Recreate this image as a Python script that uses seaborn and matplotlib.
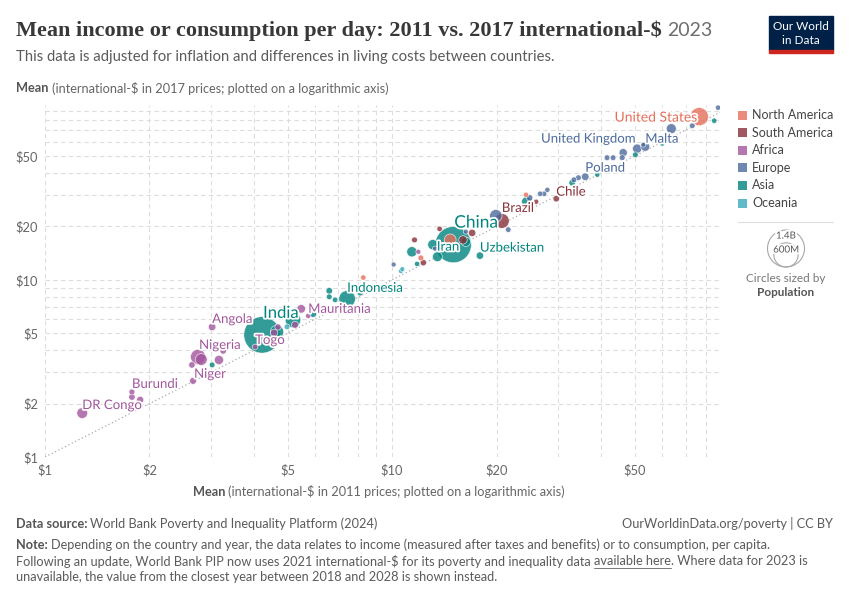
import pandas as pd
import seaborn as sns
import matplotlib.pyplot as plt
import matplotlib.ticker as mticker
import matplotlib.patheffects as pe
from matplotlib.patches import Rectangle, Ellipse
from matplotlib.lines import Line2D

# 1. Datos (dolares por dia)
countries = [
    "United States", "Mexico", "Dominican Republic", "Costa Rica", "El Salvador",
    "Brazil", "Colombia", "Chile", "Uruguay", "Paraguay", "Peru", "Bolivia", "Ecuador",
    "Nigeria", "Ethiopia", "DR Congo", "Tanzania", "Kenya", "Uganda", "Angola", "Niger",
    "Madagascar", "Malawi", "Burundi", "Zambia", "Togo", "Ghana", "Senegal", "Cameroon",
    "Mauritania", "Gabon",
    "Russia", "Germany", "United Kingdom", "France", "Italy", "Poland", "Norway",
    "Switzerland", "Malta", "Belgium", "Portugal", "Greece", "Hungary", "Czechia",
    "Bulgaria", "Serbia", "Croatia", "Belarus", "Moldova", "Albania", "Kosovo", "Romania",
    "China", "India", "Indonesia", "Pakistan", "Bangladesh", "Philippines", "Vietnam",
    "Iran", "Turkey", "Thailand", "Sri Lanka", "Nepal", "Uzbekistan", "Kazakhstan",
    "Iraq", "Laos", "Cambodia", "Tajikistan", "Israel", "Cyprus", "Singapore",
    "Armenia", "Kyrgyzstan",
    "Papua New Guinea", "Fiji", "Samoa",
]
mean_2011 = [
    76.7, 14.7, 12.1, 24.3, 8.26,
    20.7, 16.0, 29.7, 26.0, 13.7, 17.0, 11.6, 12.3,
    2.76, 2.82, 1.28, 3.17, 5.47, 2.65, 3.03, 2.67,
    1.88, 1.78, 1.78, 3.26, 4.03, 4.57, 4.69, 5.25,
    5.73, 11.9,
    19.9, 63.7, 50.8, 53.6, 46.3, 36.0, 86.9,
    73.2, 52.9, 46.0, 41.6, 43.3, 34.4, 33.4,
    26.7, 27.4, 28.0, 21.6, 16.3, 13.3, 10.1, 24.9,
    15.0, 4.22, 7.42, 5.18, 4.66, 11.4, 13.5,
    13.1, 24.4, 16.3, 6.59, 5.92, 17.9, 33.0,
    11.8, 6.85, 8.09, 3.03, 50.2, 60.0, 84.7,
    39.0, 6.59,
    4.98, 10.6, 10.7,
]
mean_2017 = [
    83.4, 16.8, 13.3, 30.2, 10.3,
    21.5, 16.8, 28.7, 27.6, 19.4, 18.4, 16.8, 12.5,
    3.67, 3.55, 1.77, 3.53, 6.86, 3.31, 5.42, 2.69,
    2.10, 2.18, 2.33, 3.97, 4.18, 5.02, 5.42, 5.57,
    6.26, 14.4,
    23.0, 71.3, 55.0, 56.4, 52.2, 38.2, 93.7,
    74.1, 57.9, 48.9, 48.9, 48.9, 37.7, 36.7,
    30.6, 30.6, 32.2, 19.2, 18.7, 15.0, 12.2, 29.0,
    15.8, 4.89, 7.81, 5.94, 5.08, 14.4, 13.5,
    15.8, 27.6, 16.4, 8.67, 6.43, 13.7, 35.3,
    12.3, 7.71, 8.45, 3.31, 50.8, 58.7, 79.1,
    39.2, 8.02,
    5.43, 11.2, 11.5,
]
regions = (
    ["North America"] * 5
    + ["South America"] * 8
    + ["Africa"] * 18
    + ["Europe"] * 22
    + ["Asia"] * 23
    + ["Oceania"] * 3
)
population = [  # millones
    335, 128, 11, 5, 6,
    216, 52, 20, 3.4, 7, 34, 12, 18,
    224, 127, 102, 67, 55, 20, 36, 27,
    30, 20, 13, 20, 9, 34, 18, 28,
    5, 2.4,
    144, 84, 68, 64, 48, 37, 5.5,
    9, 0.5, 12, 10, 10, 10, 10,
    6.5, 6.7, 4, 9, 2.5, 2.8, 1.8, 19,
    1410, 1429, 277, 240, 171, 90, 80,
    89, 85, 72, 22, 30, 35, 20,
    5, 7.6, 17, 10, 9.7, 1.2, 5.9,
    3, 10,
    10, 0.9, 0.2,
]

region_order = ["North America", "South America", "Africa", "Europe", "Asia", "Oceania"]
region_colors = ["#E56E5A", "#883039", "#A2559C", "#4C6A9C", "#00847E", "#38AABA"]
palette = dict(zip(region_order, region_colors))

# etiquetas: (dx px, dy px hacia arriba, tamano, alineacion)
labels = {
    "United States": (-2, -1, 10, "right"),
    "United Kingdom": (-1, 10, 9.5, "right"),
    "Malta": (2, 6, 9.5, "left"),
    "Poland": (0, 9, 9.5, "left"),
    "Chile": (0, 7, 9.5, "left"),
    "Brazil": (0, 13, 9.5, "left"),
    "China": (1, 22, 12.5, "left"),
    "Iran": (4, -2, 9.5, "left"),
    "Uzbekistan": (0, 8, 9.5, "left"),
    "Indonesia": (0, 11, 9.5, "left"),
    "Mauritania": (0, 7, 9.5, "left"),
    "India": (1, 22, 12, "left"),
    "Angola": (0, 8, 9.5, "left"),
    "Togo": (0, 7, 9.5, "left"),
    "Nigeria": (1, 12, 9.5, "left"),
    "Niger": (1, 7, 9.5, "left"),
    "Burundi": (0, 8, 9.5, "left"),
    "DR Congo": (0, 8, 9.5, "left"),
}

df = pd.DataFrame({
    "country": countries,
    "mean_2011": mean_2011,
    "mean_2017": mean_2017,
    "region": regions,
    "population": population,
}).sort_values("population", ascending=False)

# 2. Estilo
sns.set_theme(style="white")
plt.rcParams["font.family"] = ["Lato", "DejaVu Sans"]

W, H = 850, 600
fig = plt.figure(figsize=(8.5, 6), dpi=100)
ax = fig.add_axes([45 / W, 143 / H, 675 / W, 352 / H])

ax.plot([1, 88], [1, 88], color="#aaaaaa", lw=0.9, ls=(0, (1, 2)), zorder=2)
sns.scatterplot(data=df, x="mean_2011", y="mean_2017", hue="region", palette=palette,
                size="population", sizes=(12, 690), size_norm=(0, 1430),
                alpha=0.8, edgecolor="white", linewidth=0.5, legend=False,
                ax=ax, zorder=3)

ax.set_xscale("log")
ax.set_yscale("log")
ax.set_xlim(1, 88)
ax.set_ylim(1, 97)
major = [1, 2, 5, 10, 20, 50]
for axis in (ax.xaxis, ax.yaxis):
    axis.set_major_locator(mticker.FixedLocator(major))
    axis.set_major_formatter(mticker.FixedFormatter([f"${v}" for v in major]))
    axis.set_minor_locator(mticker.LogLocator(base=10, subs=range(2, 10)))
    axis.set_minor_formatter(mticker.NullFormatter())
ax.grid(True, which="both", color="#dddddd", lw=0.8, ls=(0, (4, 3)), zorder=0)
ax.tick_params(which="both", length=0, labelsize=9.3, labelcolor="#666666", pad=5)
ax.set_xlabel("")
ax.set_ylabel("")
for s in ax.spines.values():
    s.set_visible(False)

# etiquetas de paises
halo = [pe.withStroke(linewidth=2.5, foreground="white")]
for _, row in df.iterrows():
    if row["country"] not in labels:
        continue
    dx, dy, fs, ha = labels[row["country"]]
    ax.annotate(row["country"], (row["mean_2011"], row["mean_2017"]),
                xytext=(dx * 0.72, dy * 0.72), textcoords="offset points",
                ha=ha, va="center", fontsize=fs, color=palette[row["region"]],
                path_effects=halo, zorder=5)


# 3. Textos alrededor
renderer = fig.canvas.get_renderer()


def texto(x, y, partes, **kw):
    # x, y en pixeles desde arriba a la izquierda; cada parte: (texto, props, hueco previo)
    cajas = []
    for s, props, gap in partes:
        x += gap
        t = fig.text(x / W, 1 - y / H, s, va="center", ha="left", **props, **kw)
        bb = t.get_window_extent(renderer=renderer)
        cajas.append(bb)
        x = bb.x1
    return cajas


texto(16, 31, [
    ("Mean income or consumption per day: 2011 vs. 2017 international-$",
     dict(family="Liberation Serif", fontsize=16, fontweight="bold", color="#383838"), 0),
    ("2023", dict(fontsize=14, color="#6e6e6e"), 5),
])
fig.text(16 / W, 1 - 57 / H,
         "This data is adjusted for inflation and differences in living costs between countries.",
         va="center", fontsize=10.75, color="#5b5b5b")
etiq_b = dict(fontsize=9.2, fontweight="bold", color="#555555")
etiq = dict(fontsize=9.2, color="#666666")
texto(16, 88, [
    ("Mean", etiq_b, 0),
    ("(international-$ in 2017 prices; plotted on a logarithmic axis)", etiq, 3),
])
texto(193, 492, [
    ("Mean", etiq_b, 0),
    ("(international-$ in 2011 prices; plotted on a logarithmic axis)", etiq, 3),
])

# logo
fig.add_artist(Rectangle((769 / W, 1 - 50 / H), 64 / W, 34 / H,
                         transform=fig.transFigure, color="#002147"))
fig.add_artist(Rectangle((769 / W, 1 - 53 / H), 64 / W, 3 / H,
                         transform=fig.transFigure, color="#ce261e"))
fig.text(801 / W, 1 - 26 / H, "Our World", ha="center", va="center",
         fontsize=8.5, color="white")
fig.text(801 / W, 1 - 40 / H, "in Data", ha="center", va="center",
         fontsize=8.5, color="white")

# leyenda de regiones
for i, (reg, col) in enumerate(zip(region_order, region_colors)):
    yy = 115 + i * 17.6
    fig.add_artist(Rectangle((738 / W, 1 - (yy + 4.5) / H), 9 / W, 9 / H,
                             transform=fig.transFigure, color=col, alpha=0.8, lw=0))
    fig.text(752 / W, 1 - yy / H, reg, va="center", fontsize=9, color="#444444")
fig.add_artist(Line2D([738 / W, 833 / W], [1 - 222 / H, 1 - 222 / H],
                      transform=fig.transFigure, color="#dddddd", lw=0.8))

# leyenda de tamano
for r, lab, ly in [(18.5, "1.4B", 236), (12.1, "600M", 250)]:
    fig.add_artist(Ellipse((786 / W, 1 - (267 - r) / H), 2 * r / W, 2 * r / H,
                           transform=fig.transFigure, fill=False,
                           edgecolor="#a8a8a8", lw=0.8))
    fig.text(786 / W, 1 - ly / H, lab, ha="center", va="center", fontsize=7,
             color="#555555", path_effects=halo)
fig.text(786 / W, 1 - 278 / H, "Circles sized by", ha="center", va="center",
         fontsize=8.5, color="#777777")
fig.text(786 / W, 1 - 292 / H, "Population", ha="center", va="center",
         fontsize=8.5, fontweight="bold", color="#555555")

# pie
pie = dict(fontsize=9.2, color="#5b5b5b")
pie_b = dict(fontsize=9.2, color="#555555", fontweight="bold")
texto(16, 524, [("Data source:", pie_b, 0),
                ("World Bank Poverty and Inequality Platform (2024)", pie, 3)])
fig.text(833 / W, 1 - 524 / H, "OurWorldinData.org/poverty | CC BY",
         ha="right", va="center", **pie)
texto(16, 545, [("Note:", pie_b, 0),
                ("Depending on the country and year, the data relates to income (measured after "
                 "taxes and benefits) or to consumption, per capita.", pie, 3)])
cajas = texto(16, 561, [
    ("Following an update, World Bank PIP now uses 2021 international-$ for its poverty "
     "and inequality data", pie, 0),
    ("available here", pie, 3),
    (". Where data for 2023 is", pie, 0.5),
])
bb = cajas[1]
fig.add_artist(Line2D([bb.x0 / W, bb.x1 / W], [(bb.y0 - 1) / H, (bb.y0 - 1) / H],
                      transform=fig.transFigure, color="#777777", lw=0.7))
fig.text(16 / W, 1 - 577 / H,
         "unavailable, the value from the closest year between 2018 and 2028 is shown instead.",
         va="center", **pie)

plt.savefig("out.png", dpi=100)
plt.close()
